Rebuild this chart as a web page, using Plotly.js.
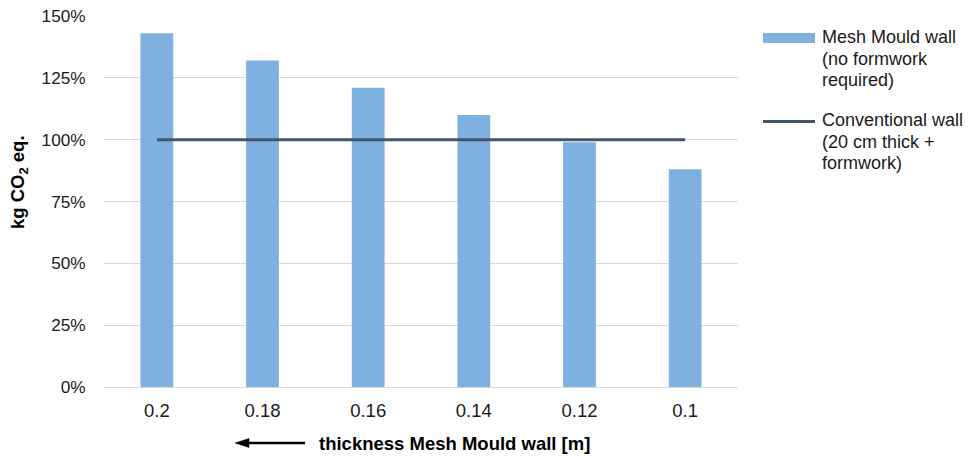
<!DOCTYPE html>
<html>
<head>
<meta charset="utf-8">
<script src="https://cdn.plot.ly/plotly-3.0.1.min.js"></script>
<style>
  html, body { margin: 0; padding: 0; background: #fff; }
  #chart { width: 970px; height: 460px; }
</style>
</head>
<body>
<div id="chart"></div>
<script>
// Wall thickness (m), thickest first
const thickness = ['0.2', '0.18', '0.16', '0.14', '0.12', '0.1'];
// Embodied CO2 relative to a conventional wall
const meshMould = [1.43, 1.32, 1.21, 1.10, 0.99, 0.88];
const conventional = [1, 1, 1, 1, 1, 1];
const yTicks = [0, 0.25, 0.5, 0.75, 1, 1.25, 1.5];
// Legend entries, one array of text lines each
const legendMesh = ['Mesh Mould wall', '(no formwork', 'required)'];
const legendConv = ['Conventional wall', '(20 cm thick +', 'formwork)'];

const barColor = '#7FB1E0';
const lineColor = '#44546A';
const textColor = '#1a1a1a';
const font = 'Arial, "Liberation Sans", sans-serif';

// plot area in pixels
const L = 104, R = 738, T = 16, B = 387;
const px = x => (x - L) / (R - L);
const py = y => (B - y) / (B - T);

const traces = [
  {
    type: 'bar', x: thickness, y: meshMould, name: 'Mesh Mould wall',
    marker: { color: barColor }, showlegend: false
  },
  {
    type: 'scatter', mode: 'lines', x: thickness, y: conventional, name: 'Conventional wall',
    line: { color: lineColor, width: 3 }, showlegend: false
  }
];

// legend text, one annotation per line for tight line spacing
function legendLines(lines, firstY) {
  return lines.map((t, i) => ({
    xref: 'paper', yref: 'paper', x: px(820), y: py(firstY + i * 21),
    xanchor: 'left', yanchor: 'middle', align: 'left', showarrow: false,
    text: t, font: { size: 18, color: textColor }
  }));
}

const arrowY = py(443);

const layout = {
  width: 970, height: 460,
  margin: { l: L, r: 970 - R, t: T, b: 460 - B },
  paper_bgcolor: '#fff', plot_bgcolor: '#fff',
  font: { family: font, size: 17, color: textColor },
  bargap: 0.69,
  showlegend: false,
  xaxis: {
    type: 'category', showgrid: false, zeroline: false,
    showline: true, linecolor: '#d9d9d9', linewidth: 1,
    ticks: 'outside', ticklen: 7, tickcolor: 'rgba(0,0,0,0)',
    tickfont: { size: 18.5, color: textColor }
  },
  yaxis: {
    range: [0, 1.5], tickvals: yTicks, tickformat: '.0%',
    showgrid: true, gridcolor: '#d9d9d9', gridwidth: 1, zeroline: false,
    ticks: 'outside', ticklen: 14, tickcolor: 'rgba(0,0,0,0)',
    tickfont: { size: 17.2, color: textColor }
  },
  shapes: [
    // legend swatches
    { type: 'rect', xref: 'paper', yref: 'paper',
      x0: px(763), x1: px(815), y0: py(43), y1: py(33),
      fillcolor: barColor, line: { width: 0 } },
    { type: 'line', xref: 'paper', yref: 'paper',
      x0: px(763), x1: px(815), y0: py(121.5), y1: py(121.5),
      line: { color: lineColor, width: 3 } },
    // direction arrow beside the x-axis title
    { type: 'line', xref: 'paper', yref: 'paper',
      x0: px(246), x1: px(305), y0: arrowY, y1: arrowY,
      line: { color: '#000', width: 2.5 } },
    { type: 'path', xref: 'paper', yref: 'paper',
      path: `M ${px(235)} ${arrowY} L ${px(249)} ${py(438.5)} L ${px(249)} ${py(447.5)} Z`,
      fillcolor: '#000', line: { color: '#000', width: 0.5 } }
  ],
  annotations: [
    ...legendLines(legendMesh, 37.5),
    ...legendLines(legendConv, 120.5),
    { xref: 'paper', yref: 'paper', x: px(19), y: py(182),
      xanchor: 'center', yanchor: 'middle', textangle: -90, showarrow: false,
      text: '<b>kg CO<sub>2</sub> eq.</b>',
      font: { size: 18.5, color: '#000' } },
    { xref: 'paper', yref: 'paper', x: px(454), y: arrowY,
      xanchor: 'center', yanchor: 'middle', showarrow: false,
      text: '<b>thickness Mesh Mould wall [m]</b>',
      font: { size: 18.5, color: '#000' } }
  ]
};

Plotly.newPlot('chart', traces, layout, { displayModeBar: false, staticPlot: true });
</script>
</body>
</html>
